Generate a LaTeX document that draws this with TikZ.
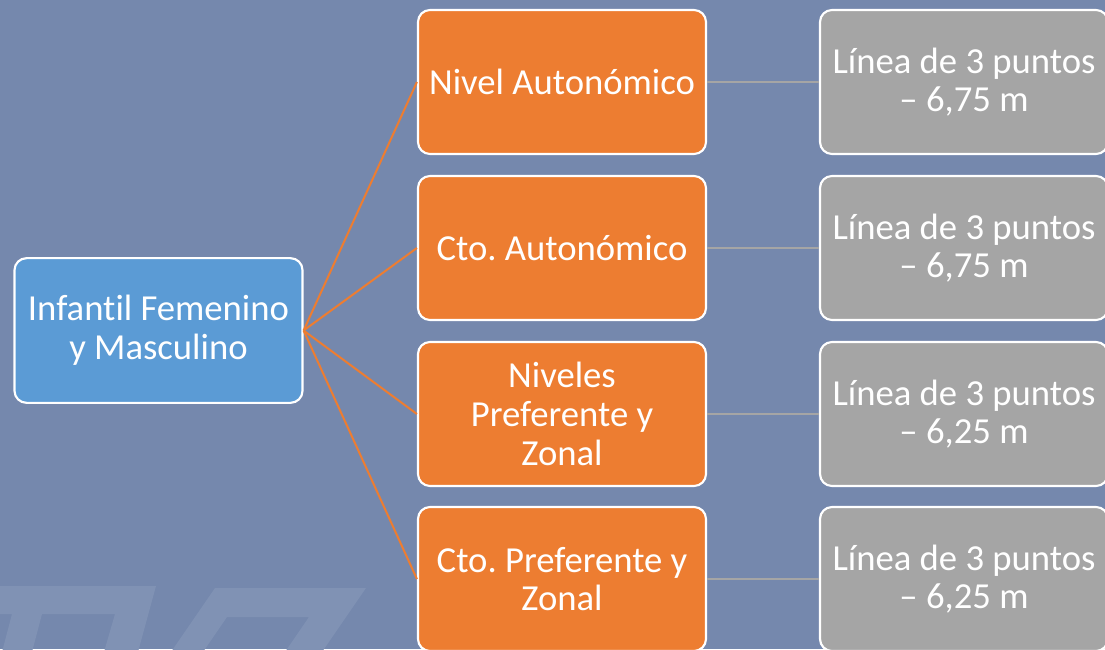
\documentclass[tikz,border=0pt]{standalone}
\usepackage{fontspec}
\setmainfont[Ligatures=NoCommon]{Carlito}
\begin{document}
\frenchspacing
\begin{tikzpicture}[x=0.75pt,y=-0.75pt,
  box/.style={draw=white, line width=1.6pt, rounded corners=9pt, align=center,
    text=white, font=\fontsize{27.5pt}{29pt}\selectfont, inner sep=1pt},
  rootbox/.style={box, fill=rootblue, minimum width=216pt, minimum height=108.5pt},
  midbox/.style={box, fill=midorange, minimum width=216pt, minimum height=108pt},
  leafbox/.style={box, fill=leafgray, minimum width=216pt, minimum height=108pt},
  branch/.style={draw=midorange, line width=1.5pt},
  leafline/.style={draw=leafgray, line width=1.5pt}]
\definecolor{bg}{HTML}{7588AD}
\definecolor{wm}{HTML}{8092B4}
\definecolor{rootblue}{HTML}{5B9BD5}
\definecolor{midorange}{HTML}{ED7D31}
\definecolor{leafgray}{HTML}{A5A5A5}
\useasboundingbox (0,0) rectangle (1105,649);
\clip (0,0) rectangle (1105,649);
\fill[bg] (0,0) rectangle (1105,649);
% watermark
\fill[wm, even odd rule] (-5,586) -- (156,586) -- (138,652) -- (-5,652) -- cycle
  (42,614) -- (115,614) -- (104,652) -- (32,652) -- cycle
  (-5,614) -- (12,614) -- (2,652) -- (-5,652) -- cycle;
\fill[wm, even odd rule] (215,588) -- (366,588) -- (322,652) -- (171,652) -- cycle
  (227,617) -- (309,617) -- (285,652) -- (203,652) -- cycle;
% nodes
\node[rootbox] (root) at (158.5,330.5) {Infantil Femenino\\y Masculino};
\node[midbox] (m1) at (562,82) {Nivel Autonómico};
\node[midbox] (m2) at (562,248) {Cto. Autonómico};
\node[midbox] (m3) at (562,414) {Niveles\\Preferente y\\Zonal};
\node[midbox] (m4) at (562,579) {Cto. Preferente y\\Zonal};
\node[leafbox] (l1) at (964,82) {Línea de 3 puntos\\– 6,75 m};
\node[leafbox] (l2) at (964,248) {Línea de 3 puntos\\– 6,75 m};
\node[leafbox] (l3) at (964,414) {Línea de 3 puntos\\– 6,25 m};
\node[leafbox] (l4) at (964,579) {Línea de 3 puntos\\– 6,25 m};
% connectors
\foreach \i in {1,2,3,4} {
  \draw[branch] (root.east) -- (m\i.west);
  \draw[leafline] (m\i.east) -- (l\i.west);
}
\end{tikzpicture}
\end{document}
